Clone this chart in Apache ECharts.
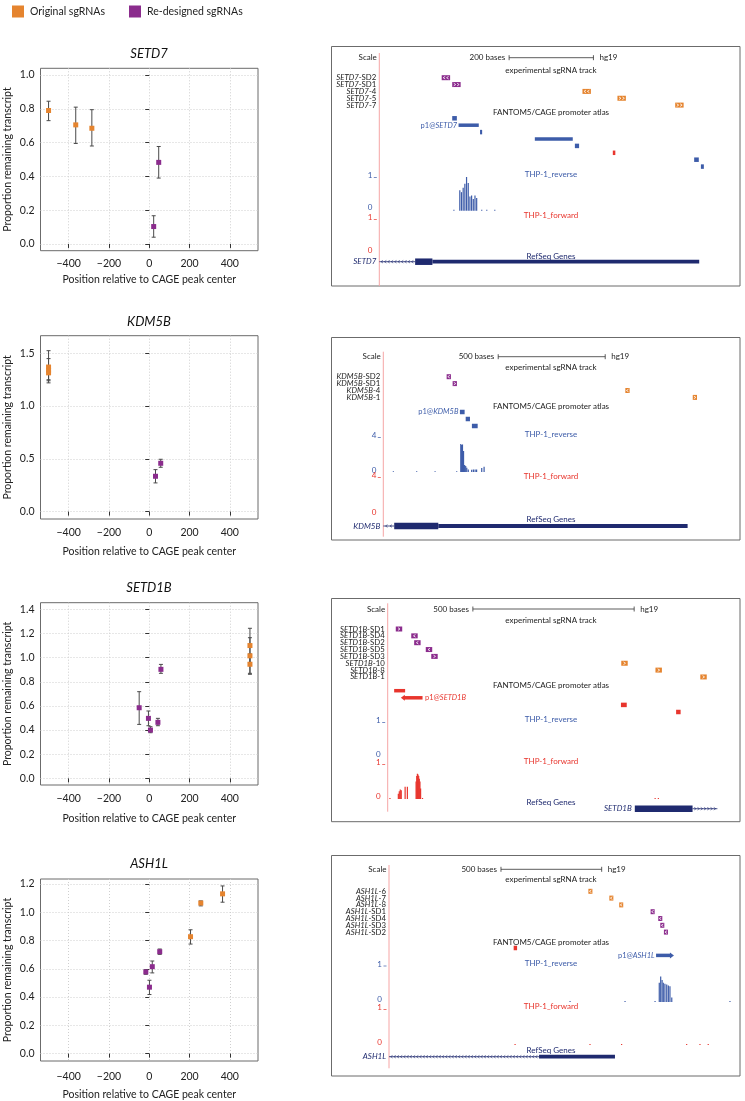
<!DOCTYPE html>
<html><head><meta charset="utf-8">
<script src="https://cdn.jsdelivr.net/npm/echarts@6/dist/echarts.min.js"></script>
<style>html,body{margin:0;padding:0;background:#fff}#c{width:745px;height:1101px}</style>
</head><body><div id="c"></div>
<script>
// ===================== DATA =====================
// Scatter panels: [position relative to CAGE peak, proportion remaining, error low, error high]
const xTicks = [-400, -200, 0, 200, 400];
const setd7Orig = [[-500,0.79,0.73,0.845],[-365,0.705,0.595,0.81],[-285,0.685,0.58,0.795]];
const setd7Re   = [[22,0.103,0.04,0.167],[47,0.483,0.39,0.577]];
const setd7YTicks = [0,0.2,0.4,0.6,0.8,1.0];

const kdm5bOrig = [[-500,1.37,1.25,1.525],[-500,1.34,1.22,1.45],[-500,1.315,1.24,1.38]];
const kdm5bRe   = [[31,0.335,0.272,0.398],[57,0.458,0.42,0.496]];
const kdm5bYTicks = [0,0.5,1.0,1.5];

const setd1bOrig = [[500,1.10,0.96,1.243],[500,1.015,0.87,1.165],[500,0.945,0.862,1.03]];
const setd1bRe   = [[-50,0.585,0.447,0.718],[-4,0.497,0.436,0.558],[6,0.40,0.378,0.428],[43,0.464,0.436,0.497],[58,0.903,0.87,0.944]];
const setd1bYTicks = [0,0.2,0.4,0.6,0.8,1.0,1.2,1.4];

const ash1lOrig = [[205,0.827,0.775,0.876],[256,1.065,1.045,1.08],[364,1.13,1.071,1.186]];
const ash1lRe   = [[-17,0.578,0.561,0.594],[1,0.47,0.418,0.519],[15,0.615,0.571,0.655],[52,0.721,0.702,0.74]];
const ash1lYTicks = [0,0.2,0.4,0.6,0.8,1.0,1.2];

// Genome browser panels (positions in bases from left edge of the view)
const setd7ScaleBases = 200, setd7ScaleStart = 308;
const setd7Guides = ['SETD7-SD2','SETD7-SD1','SETD7-4','SETD7-5','SETD7-7'];
const setd7GuideStart = [148,173,482,565,702];
const setd7GuideSet = ['re','re','orig','orig','orig'];
const setd7GuideStrand = ['-','+','-','+','+'];
const setd7CageStart = [173,188,239,369,464,554,747,763];
const setd7CageEnd   = [184,236,244,459,474,560,758,770];
const setd7CageStrand = ['-','-','-','-','-','+','-','-'];
const setd7CageArrow = [0,0,0,0,0,0,0,0];
const setd7PeakLabel = 'p1@SETD7', setd7PeakIndex = 1;
const setd7RevMax = 1, setd7FwdMax = 1;
const setd7RevPos = [177,191,195,199,203,207,211,215,219,223,227,231,243,255,274];
const setd7RevVal = [0.03,0.61,0.55,0.68,0.80,1.0,0.82,0.42,0.45,0.35,0.45,0.38,0.03,0.03,0.03];
const setd7FwdPos = [], setd7FwdVal = [];
const setd7Gene = 'SETD7', setd7GeneStrand = '-';
const setd7GeneParts = [[0,85,'intron'],[85,126,'thick'],[126,759,'mid']];

const kdm5bScaleBases = 500, kdm5bScaleStart = 537;
const kdm5bGuides = ['KDM5B-SD2','KDM5B-SD1','KDM5B-4','KDM5B-1'];
const kdm5bGuideStart = [296,324,1131,1446];
const kdm5bGuideSet = ['re','re','orig','orig'];
const kdm5bGuideStrand = ['-','+','-','+'];
const kdm5bCageStart = [358,385,414];
const kdm5bCageEnd   = [380,405,441];
const kdm5bCageStrand = ['-','-','-'];
const kdm5bCageArrow = [0,0,0];
const kdm5bPeakLabel = 'p1@KDM5B', kdm5bPeakIndex = 0;
const kdm5bRevMax = 4, kdm5bFwdMax = 4;
const kdm5bRevPos = [47,156,242,343,362,366,370,375,380,385,390,397,413,421,429,436,460,471];
const kdm5bRevVal = [0.05,0.05,0.05,0.05,3.2,3.1,3.15,2.4,0.8,0.7,0.5,0.3,0.25,0.3,0.3,0.3,0.45,0.6];
const kdm5bFwdPos = [], kdm5bFwdVal = [];
const kdm5bGene = 'KDM5B', kdm5bGeneStrand = '-';
const kdm5bGeneParts = [[0,51,'intron'],[51,257,'thick'],[257,1422,'mid']];

const setd1bScaleBases = 500, setd1bScaleStart = 264;
const setd1bGuides = ['SETD1B-SD1','SETD1B-SD4','SETD1B-SD2','SETD1B-SD5','SETD1B-SD3','SETD1B-10','SETD1B-8','SETD1B-1'];
const setd1bGuideStart = [25,73,82,118,135,724,830,969];
const setd1bGuideSet = ['re','re','re','re','re','orig','orig','orig'];
const setd1bGuideStrand = ['+','-','-','-','+','+','+','+'];
const setd1bCageStart = [20,50,723,894];
const setd1bCageEnd   = [54,108,741,908];
const setd1bCageStrand = ['+','+','+','+'];
const setd1bCageArrow = [0,-1,0,0];
const setd1bPeakLabel = 'p1@SETD1B', setd1bPeakIndex = 1;
const setd1bRevMax = 1, setd1bFwdMax = 1;
const setd1bRevPos = [], setd1bRevVal = [];
const setd1bFwdPos = [7,33,36,39,42,54,61,88,90,92,94,96,98,100,102,108,829,839];
const setd1bFwdVal = [0.03,0.15,0.22,0.27,0.25,0.35,0.35,0.5,0.66,0.72,0.7,0.66,0.58,0.5,0.3,0.03,0.03,0.03];
const setd1bGene = 'SETD1B', setd1bGeneStrand = '+';
const setd1bGeneParts = [[766,945,'thick'],[945,1022,'intron']];

const ash1lScaleBases = 500, ash1lScaleStart = 556;
const ash1lGuides = ['ASH1L-6','ASH1L-7','ASH1L-8','ASH1L-SD1','ASH1L-SD4','ASH1L-SD3','ASH1L-SD2'];
const ash1lGuideStart = [990,1094,1143,1299,1337,1347,1365];
const ash1lGuideSet = ['orig','orig','orig','re','re','re','re'];
const ash1lGuideStrand = ['-','-','-','-','-','-','-'];
const ash1lCageStart = [619,1326];
const ash1lCageEnd   = [636,1400];
const ash1lCageStrand = ['+','-'];
const ash1lCageArrow = [0,1];
const ash1lPeakLabel = 'p1@ASH1L', ash1lPeakIndex = 1;
const ash1lRevMax = 1, ash1lFwdMax = 1;
const ash1lRevPos = [899,1172,1321,1342,1349,1356,1362,1370,1379,1387,1395,1404,1693];
const ash1lRevVal = [0.03,0.03,0.03,0.53,0.70,0.6,0.53,0.5,0.48,0.45,0.43,0.12,0.03];
const ash1lFwdPos = [626,998,1155,1478,1544,1585];
const ash1lFwdVal = [0.03,0.03,0.03,0.03,0.03,0.03];
const ash1lGene = 'ASH1L', ash1lGeneStrand = '-';
const ash1lGeneParts = [[0,745,'intron'],[745,1122,'mid']];

// ===================== STYLE / LAYOUT =====================
const F = 'Lato, "Liberation Sans", sans-serif';
const ORANGE = '#E5842F', PURPLE = '#8B2C8D';
const BLUE = '#3D5CA9', RED = '#E8352D', NAVY = '#1F2A6F', PINK = '#F6A5A5';
const GUIDE_LEN = 20;
const TRACK_FS = 8;

const scatterLayout = [
  {gene:'SETD7', orig:setd7Orig, re:setd7Re, yr:[-0.04,1.04], step:0.2, ticks:setd7YTicks, top:68.3, h:182.4, titleY:54, lm:7, ng:23},
  {gene:'KDM5B', orig:kdm5bOrig, re:kdm5bRe, yr:[-0.07,1.667], step:0.5, ticks:kdm5bYTicks, top:335.7, h:183.3, titleY:321.7, lm:8, ng:27},
  {gene:'SETD1B', orig:setd1bOrig, re:setd1bRe, yr:[-0.055,1.455], step:0.2, ticks:setd1bYTicks, top:602.7, h:182.3, titleY:588.3, lm:8, ng:28},
  {gene:'ASH1L', orig:ash1lOrig, re:ash1lRe, yr:[-0.052,1.235], step:0.2, ticks:ash1lYTicks, top:879, h:182.7, titleY:864.3, lm:10, ng:28}
];

const panels = [
  {D:{scaleLen:setd7ScaleBases, scaleStart:setd7ScaleStart, guides:setd7Guides, gStart:setd7GuideStart, gSet:setd7GuideSet, gStrand:setd7GuideStrand,
      cS:setd7CageStart, cE:setd7CageEnd, cStrand:setd7CageStrand, cArrow:setd7CageArrow, peak:setd7PeakLabel, peakIdx:setd7PeakIndex,
      revMax:setd7RevMax, fwdMax:setd7FwdMax, revPos:setd7RevPos, revVal:setd7RevVal, fwdPos:setd7FwdPos, fwdVal:setd7FwdVal,
      gene:setd7Gene, geneStrand:setd7GeneStrand, parts:setd7GeneParts},
   L:{box:[331.5,46.5,740,286], pinkX:379.3, pinkY:[53,286], ppb:0.4215, scaleY:57.7, expY:70, sgY0:77.7, rowH:6.85, fanY:112.7,
      cageY0:118.3, cageRowH:6.9, revLabY:174.3, revTop:177, revBase:210.7, rev0Y:207.3, fwdLabY:215, fwdTop:219, fwdBase:251.5, fwd0Y:250,
      refY:256.7, geneY:261.7, peakSide:'left'}},
  {D:{scaleLen:kdm5bScaleBases, scaleStart:kdm5bScaleStart, guides:kdm5bGuides, gStart:kdm5bGuideStart, gSet:kdm5bGuideSet, gStrand:kdm5bGuideStrand,
      cS:kdm5bCageStart, cE:kdm5bCageEnd, cStrand:kdm5bCageStrand, cArrow:kdm5bCageArrow, peak:kdm5bPeakLabel, peakIdx:kdm5bPeakIndex,
      revMax:kdm5bRevMax, fwdMax:kdm5bFwdMax, revPos:kdm5bRevPos, revVal:kdm5bRevVal, fwdPos:kdm5bFwdPos, fwdVal:kdm5bFwdVal,
      gene:kdm5bGene, geneStrand:kdm5bGeneStrand, parts:kdm5bGeneParts},
   L:{box:[331.5,337.5,740,540], pinkX:383.3, pinkY:[351.7,536.7], ppb:0.214, scaleY:356.7, expY:367.3, sgY0:376.7, rowH:6.9, fanY:406.7,
      cageY0:412, cageRowH:7, revLabY:434.3, revTop:437, revBase:472, rev0Y:470, fwdLabY:476.7, fwdTop:477, fwdBase:514, fwd0Y:512.3,
      refY:519.3, geneY:526, peakSide:'left'}},
  {D:{scaleLen:setd1bScaleBases, scaleStart:setd1bScaleStart, guides:setd1bGuides, gStart:setd1bGuideStart, gSet:setd1bGuideSet, gStrand:setd1bGuideStrand,
      cS:setd1bCageStart, cE:setd1bCageEnd, cStrand:setd1bCageStrand, cArrow:setd1bCageArrow, peak:setd1bPeakLabel, peakIdx:setd1bPeakIndex,
      revMax:setd1bRevMax, fwdMax:setd1bFwdMax, revPos:setd1bRevPos, revVal:setd1bRevVal, fwdPos:setd1bFwdPos, fwdVal:setd1bFwdVal,
      gene:setd1bGene, geneStrand:setd1bGeneStrand, parts:setd1bGeneParts},
   L:{box:[331.5,598.5,740,821.7], pinkX:387.7, pinkY:[603.3,811.7], ppb:0.3226, scaleY:609, expY:620.7, sgY0:629, rowH:6.85, fanY:685.3,
      cageY0:690.7, cageRowH:7.1, revLabY:719.3, revTop:722, revBase:756, rev0Y:754, fwdLabY:761.7, fwdTop:764, fwdBase:799, fwd0Y:796.7,
      refY:802.7, geneY:808.7, peakSide:'right'}},
  {D:{scaleLen:ash1lScaleBases, scaleStart:ash1lScaleStart, guides:ash1lGuides, gStart:ash1lGuideStart, gSet:ash1lGuideSet, gStrand:ash1lGuideStrand,
      cS:ash1lCageStart, cE:ash1lCageEnd, cStrand:ash1lCageStrand, cArrow:ash1lCageArrow, peak:ash1lPeakLabel, peakIdx:ash1lPeakIndex,
      revMax:ash1lRevMax, fwdMax:ash1lFwdMax, revPos:ash1lRevPos, revVal:ash1lRevVal, fwdPos:ash1lFwdPos, fwdVal:ash1lFwdVal,
      gene:ash1lGene, geneStrand:ash1lGeneStrand, parts:ash1lGeneParts},
   L:{box:[331.5,855.5,740,1076], pinkX:389, pinkY:[865,1068.3], ppb:0.2014, scaleY:869.3, expY:879.3, sgY0:891.3, rowH:6.8, fanY:942,
      cageY0:948, cageRowH:7.4, revLabY:963.3, revTop:965.5, revBase:1002, rev0Y:999.3, fwdLabY:1006.7, fwdTop:1009, fwdBase:1045, fwd0Y:1042.7,
      refY:1050.7, geneY:1056.7, peakSide:'left'}}
];

// ===================== HELPERS =====================
function ln(x1,y1,x2,y2,c,w){return {type:'line',shape:{x1,y1,x2,y2},style:{stroke:c,lineWidth:w||1}};}
function rc(x,y,w,h,c){return {type:'rect',shape:{x,y,width:w,height:h},style:{fill:c}};}
function tx(x,y,t,align,c,size,extra){
  return {type:'text',x,y,style:Object.assign({text:t,fill:c,fontSize:size,fontFamily:F,
    align:align,verticalAlign:'middle',textAlign:align,textVerticalAlign:'middle'},extra||{})};
}
function richName(name, c, size){
  const k = name.lastIndexOf('-');
  const at = name.indexOf('@');
  let a, b, italicFirst;
  if (at >= 0) { a = name.slice(0,at+1); b = name.slice(at+1); italicFirst=false; }
  else { a = name.slice(0,k); b = name.slice(k); italicFirst=true; }
  const it = {fontStyle:'italic',fontSize:size,fontFamily:F,fill:c};
  const nm = {fontStyle:'normal',fontSize:size,fontFamily:F,fill:c};
  return {text:'{a|'+a+'}{b|'+b+'}', rich:{a: italicFirst?it:nm, b: italicFirst?nm:it}};
}
function chevrons(x0,x1,y,dir,color,step,hh,lw){
  const out=[]; const w=x1-x0; const n=Math.max(1,Math.floor(w/step));
  const sp=w/n;
  for(let k=0;k<n;k++){
    const cx=x0+sp*(k+0.5);
    const d=dir==='-'?-1:1;
    out.push({type:'polyline',shape:{points:[[cx-d*1,y-hh],[cx+d*1,y],[cx-d*1,y+hh]]},style:{stroke:color,lineWidth:lw||0.8,fill:null}});
  }
  return out;
}

// ===================== BUILD OPTION =====================
const grids=[], xAxes=[], yAxes=[], series=[], graphics=[];

scatterLayout.forEach((S,i)=>{
  grids.push({left:40.5,top:S.top,width:217.5,height:S.h,show:true,borderColor:'#6b6b6b',borderWidth:1,containLabel:false});
  xAxes.push({type:'value',gridIndex:i,min:-540,max:540,minInterval:200,maxInterval:200,
    name:'Position relative to CAGE peak center',nameLocation:'middle',nameGap:S.ng,
    nameTextStyle:{fontSize:10.5,fontFamily:F,color:'#222'},
    axisLine:{show:false},
    axisTick:{show:true,length:4,inside:false,customValues:xTicks,lineStyle:{color:'#333'}},
    axisLabel:{customValues:xTicks,margin:S.lm,fontSize:10.5,fontFamily:F,color:'#222',
      formatter:v=>v<0?'\u2212'+Math.abs(v):String(v)},
    splitLine:{show:true,lineStyle:{color:'#cfcfcf',type:[1,2],width:1}}});
  yAxes.push({type:'value',gridIndex:i,min:S.yr[0],max:S.yr[1],minInterval:S.step,maxInterval:S.step,
    name:'Proportion remaining transcript',nameLocation:'middle',nameGap:27,
    nameTextStyle:{fontSize:10.5,fontFamily:F,color:'#222'},
    axisLine:{show:false},
    axisTick:{show:true,length:4,customValues:S.ticks,lineStyle:{color:'#333'}},
    axisLabel:{customValues:S.ticks,margin:6,fontSize:10.5,fontFamily:F,color:'#222',formatter:v=>v.toFixed(1)},
    splitLine:{show:true,lineStyle:{color:'#cfcfcf',type:[1,2],width:1}}});
  const errSeries = (data)=>({type:'custom',xAxisIndex:i,yAxisIndex:i,silent:true,z:2,data,
    encode:{x:0,y:1},
    renderItem(params,api){
      const p=api.coord([api.value(0),api.value(1)]);
      const lo=api.coord([api.value(0),api.value(2)]);
      const hi=api.coord([api.value(0),api.value(3)]);
      const c='#4a4a4a', w=2;
      return {type:'group',children:[ln(p[0],lo[1],p[0],hi[1],c,1),ln(p[0]-w,lo[1],p[0]+w,lo[1],c,1),ln(p[0]-w,hi[1],p[0]+w,hi[1],c,1)]};
    }});
  series.push(errSeries(S.orig), errSeries(S.re));
  series.push({type:'scatter',name:'Original sgRNAs',xAxisIndex:i,yAxisIndex:i,data:S.orig.map(d=>[d[0],d[1]]),
    symbol:'rect',symbolSize:5,itemStyle:{color:ORANGE,opacity:1},z:3,silent:true});
  series.push({type:'scatter',name:'Re-designed sgRNAs',xAxisIndex:i,yAxisIndex:i,data:S.re.map(d=>[d[0],d[1]]),
    symbol:'rect',symbolSize:5,itemStyle:{color:PURPLE,opacity:1},z:3,silent:true});
  graphics.push(tx(149,S.titleY,S.gene,'center','#111',13,{fontStyle:'italic'}));
});

panels.forEach((P,pi)=>{
  const gi = 4+pi, D=P.D, L=P.L;
  const gw = L.box[2]-L.pinkX;
  grids.push({left:L.pinkX,top:L.box[1],width:gw,height:L.box[3]-L.box[1],show:false});
  xAxes.push({type:'value',gridIndex:gi,min:0,max:gw/L.ppb,show:false});
  yAxes.push({type:'value',gridIndex:gi,min:0,max:1,show:false});
  const base = {type:'custom',xAxisIndex:gi,yAxisIndex:gi,silent:true,z:5,encode:{x:0,y:1}};
  const X = (api,v)=>api.coord([v,0])[0];

  // scale bar
  series.push(Object.assign({},base,{data:[[D.scaleStart,D.scaleStart+D.scaleLen]],
    renderItem(params,api){
      const x0=X(api,api.value(0)), x1=X(api,api.value(1)), y=L.scaleY;
      return {type:'group',children:[ln(x0,y,x1,y,'#333',0.8),ln(x0,y-2.5,x0,y+2.5,'#333',0.8),ln(x1,y-2.5,x1,y+2.5,'#333',0.8),
        tx(x0-4,y,D.scaleLen+' bases','right','#222',TRACK_FS),tx(x1+6,y,'hg19','left','#222',TRACK_FS)]};
    }}));

  // sgRNA guides
  series.push(Object.assign({},base,{data:D.gStart.map((s,k)=>[s,k]),
    renderItem(params,api){
      const k=params.dataIndex, cs=params.coordSys;
      const x0=X(api,api.value(0)), x1=X(api,api.value(0)+GUIDE_LEN);
      const y=L.sgY0+k*L.rowH, h=5;
      const col=D.gSet[k]==='orig'?ORANGE:PURPLE;
      const ch=[rc(x0,y-h/2,x1-x0,h,col)].concat(chevrons(x0+0.8,x1-0.8,y,D.gStrand[k],'#fff',3,1.3,0.8));
      const t=tx(cs.x-3,y,'', 'right','#222',7.8);
      Object.assign(t.style,richName(D.guides[k],'#222',7.8));
      ch.push(t);
      return {type:'group',children:ch};
    }}));

  // FANTOM5 CAGE peaks
  series.push(Object.assign({},base,{data:D.cS.map((s,k)=>[s,D.cE[k]]),
    renderItem(params,api){
      const k=params.dataIndex;
      const x0=X(api,api.value(0)), x1=X(api,api.value(1));
      const y=L.cageY0+k*L.cageRowH;
      const col=D.cStrand[k]==='+'?RED:BLUE;
      const h=(x1-x0)<8?4.5:3.5;
      const ch=[rc(x0,y-h/2,Math.max(1.5,x1-x0),h,col)];
      const ar=D.cArrow[k];
      if(ar===-1) ch.push({type:'polygon',shape:{points:[[x0-3,y],[x0+1,y-3],[x0+1,y+3]]},style:{fill:col}});
      if(ar===1) ch.push({type:'polygon',shape:{points:[[x1+3,y],[x1-1,y-3],[x1-1,y+3]]},style:{fill:col}});
      if(k===D.peakIdx){
        const left=L.peakSide==='left';
        const t=tx(left?x0-1.5:x1+2.5,y,'',left?'right':'left',col,7.5);
        Object.assign(t.style,richName(D.peak,col,7.5));
        ch.push(t);
      }
      return {type:'group',children:ch};
    }}));

  // THP-1 reverse signal
  series.push(Object.assign({},base,{data:D.revPos.map((p,k)=>[p,D.revVal[k]]),
    renderItem(params,api){
      const x=X(api,api.value(0)); const v=api.value(1);
      const h=Math.max(0.8,v/D.revMax*(L.revBase-L.revTop));
      return rc(x-0.6,L.revBase-h,1.2,h,BLUE);
    }}));
  // THP-1 forward signal
  series.push(Object.assign({},base,{data:D.fwdPos.map((p,k)=>[p,D.fwdVal[k]]),
    renderItem(params,api){
      const x=X(api,api.value(0)); const v=api.value(1);
      const h=Math.max(0.8,v/D.fwdMax*(L.fwdBase-L.fwdTop));
      return rc(x-0.6,L.fwdBase-h,1.2,h,RED);
    }}));

  // RefSeq gene model
  series.push(Object.assign({},base,{data:D.parts.map(p=>[p[0],p[1]]),
    renderItem(params,api){
      const k=params.dataIndex, cs=params.coordSys;
      const kind=D.parts[k][2];
      const x0=X(api,api.value(0)), x1=X(api,api.value(1)), y=L.geneY;
      const ch=[];
      if(kind==='intron'){
        ch.push(ln(x0,y,x1,y,NAVY,0.8));
        chevrons(x0+1,x1-1,y,D.geneStrand,NAVY,3.2,1.3,0.6).forEach(c=>ch.push(c));
      } else {
        const h=kind==='thick'?6.5:3.8;
        ch.push(rc(x0,y-h/2,x1-x0,h,NAVY));
      }
      if(k===0){
        const minStart=Math.min.apply(null,D.parts.map(p=>p[0]));
        const lx=Math.max(cs.x,X(api,minStart));
        ch.push(tx(lx-3,y,D.gene,'right',NAVY,8,{fontStyle:'italic'}));
      }
      return {type:'group',children:ch};
    }}));

  // static decoration and track titles
  const b=L.box;
  graphics.push({type:'rect',shape:{x:b[0],y:b[1],width:b[2]-b[0],height:b[3]-b[1]},style:{fill:null,stroke:'#6b6b6b',lineWidth:1},z:1});
  graphics.push({type:'line',shape:{x1:L.pinkX,y1:L.pinkY[0],x2:L.pinkX,y2:L.pinkY[1]},style:{stroke:PINK,lineWidth:1},z:1});
  graphics.push(tx(L.pinkX-2.5,L.scaleY,'Scale','right','#222',TRACK_FS));
  graphics.push(tx(551,L.expY,'experimental sgRNA track','center','#222',TRACK_FS));
  graphics.push(tx(551,L.fanY,'FANTOM5/CAGE promoter atlas','center','#222',TRACK_FS));
  graphics.push(tx(551,L.revLabY,'THP-1_reverse','center',BLUE,TRACK_FS));
  graphics.push(tx(551,L.fwdLabY,'THP-1_forward','center',RED,TRACK_FS));
  graphics.push(tx(551,L.refY,'RefSeq Genes','center',NAVY,TRACK_FS));
  graphics.push(tx(L.pinkX-7,L.revTop-1.5,String(D.revMax),'right',BLUE,8));
  graphics.push({type:'line',shape:{x1:L.pinkX-5.5,y1:L.revTop+0.5,x2:L.pinkX-2.5,y2:L.revTop+0.5},style:{stroke:BLUE,lineWidth:0.7}});
  graphics.push(tx(L.pinkX-7,L.rev0Y,'0','right',BLUE,8));
  graphics.push(tx(L.pinkX-7,L.fwdTop-1.5,String(D.fwdMax),'right',RED,8));
  graphics.push({type:'line',shape:{x1:L.pinkX-5.5,y1:L.fwdTop+0.5,x2:L.pinkX-2.5,y2:L.fwdTop+0.5},style:{stroke:RED,lineWidth:0.7}});
  graphics.push(tx(L.pinkX-7,L.fwd0Y,'0','right',RED,8));
});

const option = {
  animation:false,
  backgroundColor:'#ffffff',
  legend:{left:7,top:0.5,itemWidth:12,itemHeight:12,itemGap:24,icon:'rect',
    data:['Original sgRNAs','Re-designed sgRNAs'],selectedMode:false,
    textStyle:{fontSize:10.5,fontFamily:F,color:'#222',padding:[0,0,0,1]}},
  grid:grids, xAxis:xAxes, yAxis:yAxes, series:series,
  graphic:{elements:graphics}
};
const chart = echarts.init(document.getElementById('c'),null,{renderer:'canvas'});
chart.setOption(option);
</script></body></html>
